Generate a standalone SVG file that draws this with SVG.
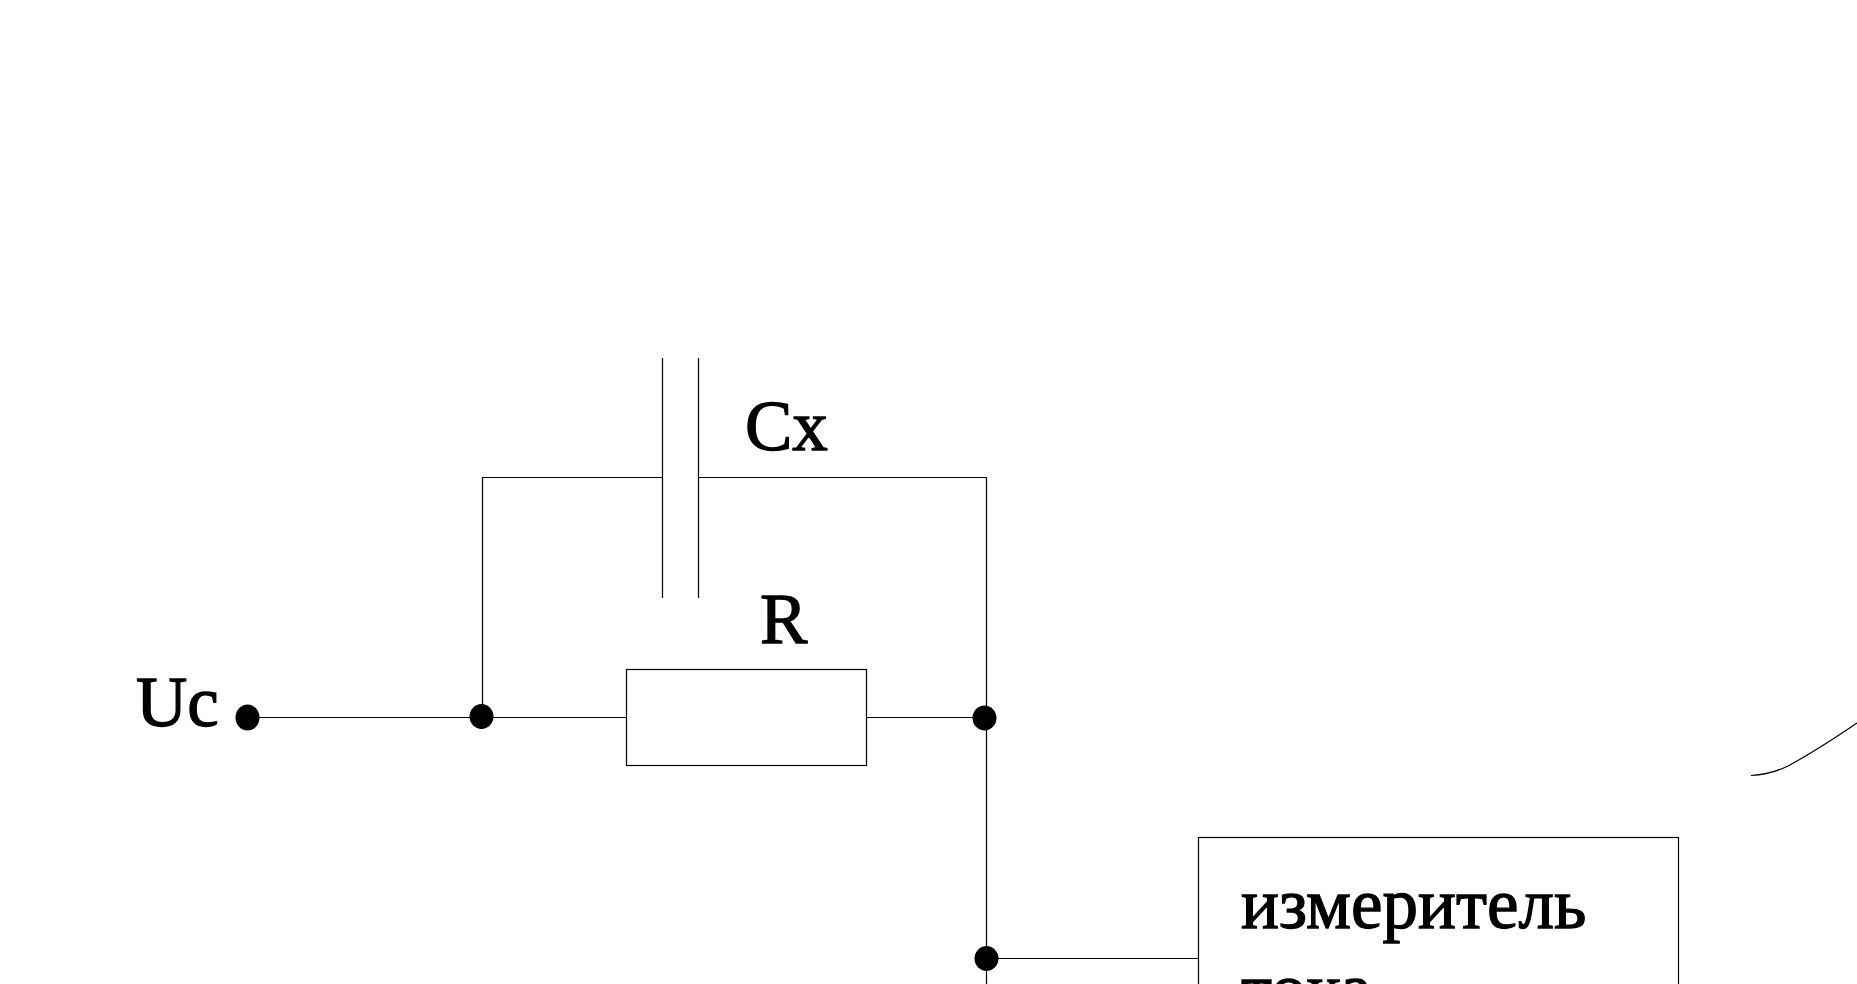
<svg xmlns="http://www.w3.org/2000/svg" width="1857" height="984" viewBox="0 0 1857 984">
<style>
.w{fill:none;stroke:#000;stroke-width:1.2}
.d{fill:#000}
text{font-family:"Liberation Serif","Noto Sans CJK SC",serif;font-size:71px;fill:#000;stroke:#000;stroke-width:1.3}
</style>
<rect width="1857" height="984" fill="#fff"/>
<g id="connectors">
<path class="w" d="M247 717.5H626.5M866.5 717.5H985"/>
<path class="w" d="M482.5 717V477.5H662.5M698.5 477.5H986.5V984"/>
<path class="w" d="M986.5 958.5H1199"/>
<path class="w" d="M1751 775.5C1766 774.5 1777 771.5 1788 766C1812 753 1835 738 1857 723"/>
</g>
<g id="capacitor"><path class="w" d="M662.5 358V598M698.5 358V598"/><text x="745" y="450">Cx</text></g>
<g id="resistor"><rect class="w" x="626.5" y="669.5" width="240" height="96"/><text x="760" y="643">R</text></g>
<g id="terminal"><ellipse class="d" cx="247.5" cy="717.5" rx="12" ry="13"/><text x="136" y="726">Uc</text></g>
<g id="junction-left"><ellipse class="d" cx="481.5" cy="716.5" rx="12" ry="12.5"/></g>
<g id="junction-right"><ellipse class="d" cx="984.5" cy="718" rx="12" ry="12.5"/></g>
<g id="junction-meter"><ellipse class="d" cx="986.5" cy="958.5" rx="12" ry="12.5"/></g>
<g id="meter"><rect class="w" x="1198.5" y="837.5" width="480" height="160"/>
<text x="1241" y="928">измеритель</text><text x="1241" y="1013">тока</text></g>
</svg>
